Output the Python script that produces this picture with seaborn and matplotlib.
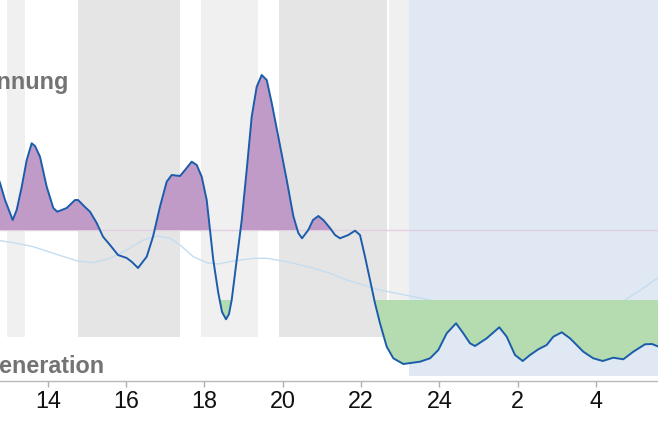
import numpy as np
import pandas as pd
import matplotlib
matplotlib.use("Agg")
import matplotlib.pyplot as plt
import seaborn as sns

# ---- data (hours of day, continuous past midnight; level in arbitrary units) ----
hours = [12.680, 12.782, 12.910, 13.106, 13.208, 13.336, 13.464, 13.591, 13.676, 13.803,
         13.974, 14.143, 14.245, 14.485, 14.697, 14.774, 14.952, 15.080, 15.251, 15.412,
         15.591, 15.795, 16.017, 16.152, 16.306, 16.528, 16.689, 16.867, 17.038, 17.166,
         17.378, 17.506, 17.677, 17.805, 17.932, 18.060, 18.144, 18.228, 18.356, 18.451,
         18.553, 18.629, 18.698, 18.826, 18.954, 19.081, 19.209, 19.337, 19.464, 19.592,
         19.720, 19.888, 20.103, 20.271, 20.399, 20.493, 20.654, 20.774, 20.910, 21.037,
         21.208, 21.336, 21.464, 21.676, 21.847, 21.974, 22.102, 22.230, 22.357, 22.485,
         22.656, 22.825, 23.080, 23.506, 23.762, 23.974, 24.188, 24.426, 24.612, 24.783,
         24.911, 25.209, 25.531, 25.720, 25.932, 26.129, 26.315, 26.527, 26.741, 26.910,
         27.125, 27.336, 27.676, 27.931, 28.171, 28.442, 28.697, 28.953, 29.251, 29.430,
         29.685]
level = [208.7, 197.7, 180.7, 160.7, 170.7, 193.7, 220.7, 237.4, 234.7, 224.0,
         194.0, 172.7, 169.0, 172.7, 180.7, 180.7, 173.7, 169.0, 157.7, 144.0,
         135.7, 125.7, 122.7, 118.7, 112.7, 124.0, 144.0, 174.0, 199.0, 205.7,
         204.7, 210.7, 219.0, 215.7, 204.0, 180.7, 150.7, 120.7, 87.7, 68.7,
         61.4, 66.7, 80.7, 120.7, 160.7, 210.7, 264.0, 294.0, 305.7, 300.7,
         277.7, 244.0, 200.7, 164.7, 147.7, 142.4, 150.7, 160.7, 164.7, 160.7,
         152.7, 145.7, 142.4, 145.7, 150.0, 145.7, 124.0, 100.7, 77.4, 57.4,
         34.0, 22.4, 16.7, 19.0, 22.4, 30.7, 47.4, 57.4, 47.4, 37.4,
         34.7, 42.4, 53.4, 44.0, 25.7, 19.7, 25.7, 31.4, 35.7, 44.0,
         48.4, 42.4, 29.0, 22.4, 19.7, 23.0, 21.4, 29.0, 36.4, 36.7,
         32.7]

trend_hours = [12.680, 12.782, 13.122, 13.632, 14.143, 14.740, 15.164, 15.591, 16.017, 16.441,
               16.783, 17.123, 17.378, 17.718, 18.060, 18.356, 18.739, 19.250, 19.592, 20.103,
               20.698, 21.208, 21.635, 22.485, 23.335, 23.762, 24.528, 26.315, 28.103, 28.740,
               29.175, 29.685]
trend_level = [140.2, 140.0, 138.0, 134.0, 127.4, 120.0, 118.0, 122.4, 130.7, 140.7,
               144.7, 142.4, 135.7, 124.0, 118.0, 116.7, 119.7, 122.4, 122.4, 119.0,
               113.4, 107.4, 100.7, 90.7, 84.0, 80.7, 74.7, 70.7, 75.7, 80.7,
               91.7, 105.7]

upper_threshold = 150.7
lower_threshold = 80.7

# activity bands: (start, end, kind)
band_start = [12.961, 14.774, 17.914, 19.906, 22.715]
band_end = [13.420, 17.386, 19.370, 22.676, 23.218]
band_kind = ["light", "dark", "light", "dark", "light"]
sleep_start = 23.218
sleep_end = 30.0

tick_pos = [14, 16, 18, 20, 22, 24, 26, 28]
tick_labels = ["14", "16", "18", "20", "22", "24", "2", "4"]

label_top = "Anspannung"
label_bottom = "Regeneration"

# ---- styling ----
sns.set_theme(style="white")
plt.rcParams["font.family"] = ["Liberation Sans", "DejaVu Sans"]

df = pd.DataFrame({"hour": hours, "level": level})
dft = pd.DataFrame({"hour": trend_hours, "level": trend_level})

fig = plt.figure(figsize=(6.58, 4.38), dpi=100)
ymax = 380.7
ax = fig.add_axes([0, 57.3 / 438, 1, ymax / 438])
ax.set_xlim(12.782, 29.583)
ax.set_ylim(0, ymax)

band_colors = {"light": "#f0f0f0", "dark": "#e5e5e5"}
grey_bottom = 43.4 / ymax
for s, e, k in zip(band_start, band_end, band_kind):
    ax.axvspan(s, e, ymin=grey_bottom, ymax=1, color=band_colors[k], lw=0, zorder=0)
ax.axvspan(sleep_start, sleep_end, ymin=4.7 / ymax, ymax=1, color="#dfe8f3", lw=0, zorder=0)

ax.axhline(upper_threshold, color="#e2d0e2", lw=1.0, zorder=1)
sns.lineplot(data=dft, x="hour", y="level", ax=ax, color="#c4ddf0", lw=1.0, zorder=1.5)

y = np.array(level)
x = np.array(hours)
ax.fill_between(x, y, upper_threshold, where=y > upper_threshold, interpolate=True,
                color="#c19bc7", lw=0, zorder=2)
ax.fill_between(x, y, lower_threshold, where=y < lower_threshold, interpolate=True,
                color="#b4dcb0", lw=0, zorder=2)

sns.lineplot(data=df, x="hour", y="level", ax=ax, color="#1b5cab", lw=1.4, zorder=3)

ax.text(14.526, 291.7, label_top, ha="right", va="baseline", fontsize=16.8,
        fontweight="bold", color="#737373")
ax.text(15.438, 7.4, label_bottom, ha="right", va="baseline", fontsize=16.8,
        fontweight="bold", color="#737373")

ax.set_xticks(tick_pos)
ax.set_xticklabels(tick_labels)
ax.set_yticks([])
ax.set_xlabel("")
ax.set_ylabel("")
for side in ["top", "left", "right"]:
    ax.spines[side].set_visible(False)
ax.spines["bottom"].set_color("#b8b8b8")
ax.spines["bottom"].set_linewidth(1.0)
ax.tick_params(axis="x", bottom=True, length=4, width=1, color="#b0b0b0",
               direction="out", labelsize=16.8, labelcolor="#111111", pad=3)
ax.set_facecolor("white")
ax.patch.set_alpha(0)

fig.savefig("out.png", dpi=100)
